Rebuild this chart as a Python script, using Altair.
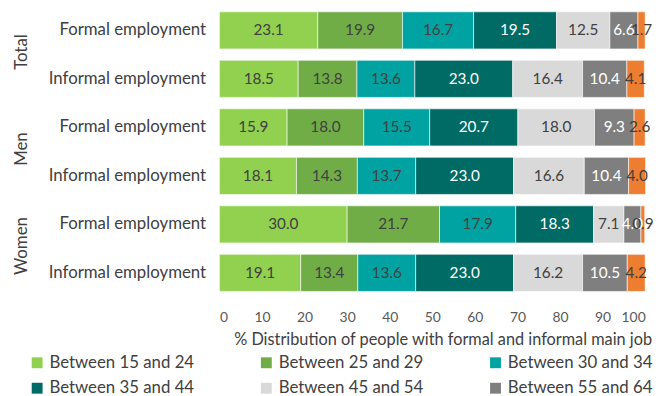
import altair as alt
import pandas as pd

groups = ["Total", "Total", "Men", "Men", "Women", "Women"]
types = ["Formal employment", "Informal employment"] * 3
ages = ["Between 15 and 24", "Between 25 and 29", "Between 30 and 34",
        "Between 35 and 44", "Between 45 and 54", "Between 55 and 64",
        "65 and over"]
colors = ["#92D050", "#70AD47", "#00A3A1", "#006A65", "#D9D9D9", "#7F7F7F", "#ED7D31"]

values = [
    [23.1, 19.9, 16.7, 19.5, 12.5, 6.6, 1.7],
    [18.5, 13.8, 13.6, 23.0, 16.4, 10.4, 4.1],
    [15.9, 18.0, 15.5, 20.7, 18.0, 9.3, 2.6],
    [18.1, 14.3, 13.7, 23.0, 16.6, 10.4, 4.0],
    [30.0, 21.7, 17.9, 18.3, 7.1, 4.0, 0.9],
    [19.1, 13.4, 13.6, 23.0, 16.2, 10.5, 4.2],
]
x_ticks = [0, 10, 20, 30, 40, 50, 60, 70, 80, 90, 100]

rows = []
row_keys = []
for g, t, vals in zip(groups, types, values):
    key = g + "|" + t
    row_keys.append(key)
    for i, (a, v) in enumerate(zip(ages, vals)):
        rows.append({"row": key, "group": g, "type": t, "age": a, "order": i, "value": v})
df = pd.DataFrame(rows)

grp_df = pd.DataFrame({"group": ["Total", "Men", "Women"],
                       "row": [k for k in row_keys if "|Formal" in k]})

FONT = "Lato"
y_enc = alt.Y("row:N", sort=row_keys,
              scale=alt.Scale(paddingInner=0.235, paddingOuter=0.03),
              axis=alt.Axis(title=None, labelExpr="split(datum.value, '|')[1]",
                            labelFontSize=17, labelColor="#404040", labelFont=FONT,
                            ticks=False, domain=False, labelPadding=14, labelLimit=300))

base = alt.Chart(df).transform_stack(
    stack="value", groupby=["row"], as_=["x0", "x1"],
    sort=[alt.SortField("order", order="ascending")]
).transform_calculate(mid="(datum.x0 + datum.x1) / 2")

bars = base.mark_bar(stroke="white", strokeWidth=0.6).encode(
    y=y_enc,
    x=alt.X("x0:Q", scale=alt.Scale(domain=[0, 100], nice=False),
            axis=alt.Axis(values=x_ticks, grid=False, domain=False, ticks=False,
                          labelFontSize=14, labelColor="#595959", labelFont=FONT,
                          labelPadding=18,
                          title="% Distribution of people with formal and informal main job",
                          titleFontSize=16.5, titleFont=FONT, titleColor="#404040",
                          titleFontWeight="normal", titleX=226, titleY=47,
                          titleAlign="center", titleBaseline="middle")),
    x2="x1:Q",
    color=alt.Color("age:N", sort=ages,
                    scale=alt.Scale(domain=ages, range=colors),
                    legend=alt.Legend(title=None, orient="none", legendX=-193, legendY=348,
                                      direction="horizontal",
                                      columns=3, values=ages[:6], symbolType="square",
                                      symbolSize=121, symbolStrokeWidth=0,
                                      labelFontSize=17, labelFont=FONT, labelColor="#404040",
                                      labelLimit=300, columnPadding=64, rowPadding=8,
                                      labelOffset=4, padding=0)),
)

labels = base.mark_text(fontSize=15.5, font=FONT).encode(
    y=alt.Y("row:N", sort=row_keys),
    x=alt.X("mid:Q"),
    text=alt.Text("value:Q", format=".1f"),
    color=alt.condition(
        "datum.age == 'Between 35 and 44' || datum.age == 'Between 55 and 64'",
        alt.value("white"), alt.value("#404040")),
)

grp = alt.Chart(grp_df).mark_text(angle=270, fontSize=17, font=FONT, color="#404040", dx=-22).encode(
    y=alt.Y("row:N", sort=row_keys),
    x=alt.value(-200),
    text="group:N",
)

chart = alt.layer(bars, labels, grp).properties(
    width=431, height=286,
    autosize=alt.AutoSizeParams(type="none"),
    padding={"left": 214, "top": 0, "right": 14, "bottom": 102},
).configure_view(stroke=None)

chart.save("out.html", embed_options={"renderer": "svg", "actions": False})
